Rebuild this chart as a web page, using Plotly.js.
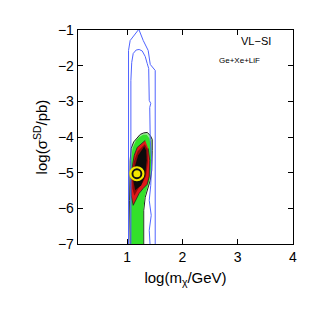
<!DOCTYPE html>
<html>
<head>
<meta charset="utf-8">
<script src="https://cdn.plot.ly/plotly-3.0.1.min.js"></script>
<style>
  html, body { margin: 0; padding: 0; background: white; }
  #graph { width: 322px; height: 322px; }
</style>
</head>
<body>
<div id="graph"></div>
<script>
// contour outlines, in log(m/GeV), log(sigma/pb)
const blueOuterX = [1.024, 1.024, 1.054, 1.21, 1.29, 1.38, 1.417, 1.507, 1.507];
const blueOuterY = [-7.1, -1.574, -1.294, -0.98, -1.294, -1.574, -1.966, -2.134, -7.1];

const blueInnerX = [1.067, 1.067, 1.082, 1.109, 1.163, 1.217, 1.272, 1.326, 1.362, 1.389,
                    1.399, 1.426, 1.408, 1.417, 1.444, 1.426, 1.399, 1.435, 1.399, 1.417];
const blueInnerY = [-7.1, -2.415, -1.910, -1.658, -1.560, -1.546, -1.588, -1.742, -1.938, -2.078,
                    -2.975, -3.059, -3.171, -4.095, -4.655, -5.356, -5.776, -6.196, -6.616, -7.1];

const greenX = [1.054, 1.045, 1.054, 1.072, 1.118, 1.181, 1.236, 1.299, 1.362, 1.417,
                1.453, 1.453, 1.444, 1.417, 1.371, 1.326, 1.299, 1.299];
const greenY = [-7.1, -5.776, -4.655, -4.319, -4.137, -4.011, -3.927, -3.885, -3.871, -3.955,
                -4.067, -4.375, -4.936, -5.216, -5.440, -5.692, -6.056, -7.1];

const greenInnerX = [1.07, 1.062, 1.07, 1.1, 1.16, 1.22, 1.29, 1.355, 1.405, 1.435,
                     1.43, 1.405, 1.36, 1.315, 1.29, 1.29];
const greenInnerY = [-7.1, -5.7, -4.6, -4.3, -4.1, -4.0, -3.94, -3.94, -4.05, -4.35,
                     -4.9, -5.2, -5.42, -5.7, -6.05, -7.1];

const redX = [1.326, 1.181, 1.127, 1.082, 1.063, 1.072, 1.109, 1.154, 1.217, 1.290, 1.362, 1.399, 1.408, 1.380];
const redY = [-4.095, -4.291, -4.515, -4.936, -5.356, -5.636, -5.916, -5.776, -5.580, -5.440, -5.328, -5.104, -4.655, -4.319];

const darkX = [1.318, 1.19, 1.118, 1.09, 1.095, 1.13, 1.2, 1.28, 1.34, 1.375, 1.37];
const darkY = [-4.2, -4.4, -4.7, -5.1, -5.45, -5.65, -5.45, -5.28, -5.1, -4.7, -4.35];

const coreX = [1.308, 1.199, 1.127, 1.109, 1.145, 1.254, 1.326, 1.353, 1.344];
const coreY = [-4.263, -4.515, -4.880, -5.216, -5.496, -5.356, -5.076, -4.655, -4.375];

// best fit point
const bestX = [1.176];
const bestY = [-5.03];

const blue = 'rgb(80,100,255)';

const fill = (x, y, color, line) => ({
    x: x, y: y, mode: 'lines', fill: 'toself', fillcolor: color,
    line: line || { width: 0, color: color }, hoverinfo: 'none', showlegend: false,
});

const traces = [
    fill(greenX, greenY, '#9be894', { width: 1, color: '#222' }),
    fill(greenInnerX, greenInnerY, '#33e02a'),
    fill(redX, redY, '#e01818', { width: 0.8, color: '#222' }),
    fill(darkX, darkY, '#8a0a0a'),
    fill(coreX, coreY, '#0c0c0c'),
    { x: blueOuterX, y: blueOuterY, mode: 'lines', line: { color: blue, width: 1 }, showlegend: false },
    { x: blueInnerX, y: blueInnerY, mode: 'lines', line: { color: blue, width: 1 }, showlegend: false },
    { x: bestX, y: bestY, mode: 'markers', showlegend: false,
      marker: { symbol: 'circle', size: 13, color: '#111', line: { color: '#f2e600', width: 2.2 } } },
    { x: bestX, y: bestY, mode: 'markers', showlegend: false,
      marker: { symbol: 'circle', size: 7, color: '#f2e600', line: { width: 0 } } },
];

const axisBase = {
    showgrid: false, zeroline: false, showline: true, linecolor: 'black', linewidth: 1.3,
    mirror: 'ticks', ticks: 'inside', ticklen: 5, tickwidth: 1, tickcolor: 'black',
    tickfont: { size: 14, color: 'black' },
};

const layout = {
    width: 322, height: 322,
    margin: { l: 78, r: 29, t: 30, b: 78 },
    paper_bgcolor: 'white', plot_bgcolor: 'white',
    font: { family: 'Liberation Sans, Arial, sans-serif', color: 'black' },
    showlegend: false,
    xaxis: Object.assign({}, axisBase, {
        range: [0.11, 4], tick0: 0, dtick: 1,
        title: { text: 'log(m<sub>χ</sub>/GeV)', font: { size: 15, color: 'black' }, standoff: 8 },
    }),
    yaxis: Object.assign({}, axisBase, {
        range: [-7, -1], tick0: 0, dtick: 1,
        title: { text: 'log(σ<sup>SD</sup>/pb)', font: { size: 15, color: 'black' }, standoff: 6 },
    }),
    annotations: [
        { xref: 'paper', yref: 'paper', x: 0.905, y: 0.985, xanchor: 'right', yanchor: 'top',
          text: 'VL−SI', showarrow: false, font: { size: 11, color: 'black' } },
        { xref: 'paper', yref: 'paper', x: 0.855, y: 0.89, xanchor: 'right', yanchor: 'top',
          text: 'Ge+Xe+LiF', showarrow: false, font: { size: 8, color: 'black' } },
    ],
};

Plotly.newPlot('graph', traces, layout, { staticPlot: true });
</script>
</body>
</html>
